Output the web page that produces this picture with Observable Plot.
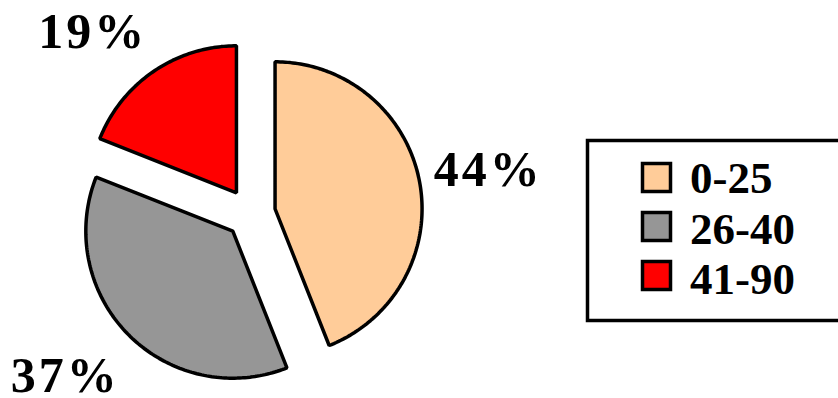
<!DOCTYPE html>
<html>
<head>
<meta charset="utf-8">
<script src="https://cdn.jsdelivr.net/npm/d3@7"></script>
<script src="https://cdn.jsdelivr.net/npm/@observablehq/plot@0.6"></script>
<style>
  html, body { margin: 0; padding: 0; background: #fff; overflow: hidden; }
  #chart { width: 838px; height: 398px; }
</style>
</head>
<body>
<div id="chart"></div>
<script>
// ---- data ----
const categories = ["0-25", "26-40", "41-90"];
const shares = [44, 37, 19];
const colors = ["#FFCC99", "#969696", "#FF0000"];
const labels = ["44%", "37%", "19%"];

// ---- layout ----
const W = 838, H = 398;
const R = 147;            // pie radius in px
const CX = 250, CY = 213; // pie center in px
const EXPLODE = 25 / R;   // explode distance in radius units
const FONT = "'Liberation Serif', 'Times New Roman', serif";

const rows = categories.map((c, i) => ({cat: c, share: shares[i], label: labels[i]}));
const arcs = d3.pie().sort(null).value(d => d.share)(rows);

// slice outlines in radius units (y up)
const points = [];
const labelPts = [];
const clamp = v => Math.max(-1, Math.min(1, v));
for (const a of arcs) {
  const mid = (a.startAngle + a.endAngle) / 2;
  const ox = EXPLODE * Math.sin(mid), oy = EXPLODE * Math.cos(mid);
  points.push({cat: a.data.cat, x: ox, y: oy});
  const n = Math.max(2, Math.ceil((a.endAngle - a.startAngle) / (Math.PI / 180)));
  for (let k = 0; k <= n; ++k) {
    const t = a.startAngle + (a.endAngle - a.startAngle) * k / n;
    points.push({cat: a.data.cat, x: ox + Math.sin(t), y: oy + Math.cos(t)});
  }
  const dx = Math.sin(mid), dy = Math.cos(mid);
  const rl = 190 / R, hw = 51 / R, hh = 26 / R;
  labelPts.push({
    x: rl * dx + hw * clamp(2 * dx),
    y: rl * dy + hh * clamp(2 * dy),
    text: a.data.label
  });
}

const chart = Plot.plot({
  width: W,
  height: H,
  margin: 0,
  x: {domain: [-CX / R, (W - CX) / R], axis: null},
  y: {domain: [(CY - H) / R, CY / R], axis: null},
  color: {domain: categories, range: colors},
  style: {background: "#fff", overflow: "visible"},
  marks: [
    Plot.line(points, {
      x: "x", y: "y", z: "cat", fill: "cat",
      stroke: "#000", strokeWidth: 3.5,
      curve: "linear-closed", strokeLinejoin: "miter"
    }),
    Plot.text(labelPts, {
      x: "x", y: "y", text: "text", dy: 2,
      fontSize: 50, fontWeight: "bold", fontFamily: FONT,
      fill: "#000", stroke: "none"
    })
  ]
});

// slightly wider tracking on the percent labels, as in the reference
d3.select(chart).selectAll("text").attr("letter-spacing", "3px");

// ---- legend (inside the same SVG) ----
const svg = d3.select(chart);
const lg = svg.append("g").attr("text-anchor", "start");
lg.append("rect")
  .attr("x", 587.5).attr("y", 140.5)
  .attr("width", 300).attr("height", 180)
  .attr("fill", "#fff").attr("stroke", "#000").attr("stroke-width", 3.5);
categories.forEach((c, i) => {
  const top = 162 + i * 49;
  lg.append("rect")
    .attr("x", 642.5).attr("y", top + 1.5)
    .attr("width", 28).attr("height", 28)
    .attr("fill", colors[i]).attr("stroke", "#000").attr("stroke-width", 3.5);
  lg.append("text")
    .attr("x", 690).attr("y", 193 + i * 50.5)
    .attr("text-anchor", "start")
    .attr("font-family", FONT).attr("font-weight", "bold").attr("font-size", 45)
    .attr("fill", "#000")
    .text(c);
});

document.getElementById("chart").appendChild(chart);
</script>
</body>
</html>
